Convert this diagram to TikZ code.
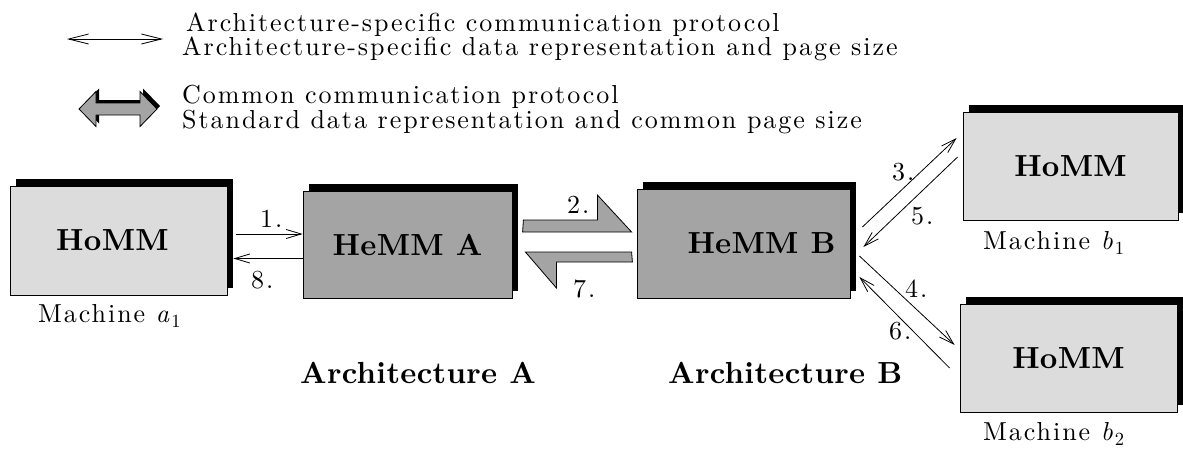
\documentclass[tikz,border=0pt]{standalone}
\usepackage{fontspec}
\usetikzlibrary{arrows.meta,calc,shadows}
\newfontfamily\rmwide{lmroman10-regular.otf}[LetterSpace=7.5, ItalicFont=lmroman10-italic.otf]
\newfontfamily\bfwide{lmroman10-bold.otf}[LetterSpace=1]
\definecolor{hostgray}{HTML}{DCDCDC}
\definecolor{hetgray}{HTML}{A4A4A4}
% machine index: italic letter with a lowered numeral
\newcommand{\machidx}[2]{\textit{#1}\raisebox{-0.22em}{\fontsize{18.5}{20}\selectfont #2}}
\newcommand{\widerm}{\rmwide\fontsize{26}{30}\selectfont}
\newcommand{\widebf}{\bfwide\fontsize{30.5}{34}\selectfont}
\tikzset{
  txt/.style={font=\widerm, inner sep=0pt, anchor=base west},
  btxt/.style={font=\widebf, inner sep=0pt, anchor=base west},
  mbox/.style={draw, line width=0.8pt, inner sep=0pt, font=\widebf,
    drop shadow={shadow xshift=6pt, shadow yshift=7pt, fill=black, opacity=1}},
  homm/.style={mbox, fill=hostgray},
  hemm/.style={mbox, fill=hetgray},
  msg/.style={line width=0.8pt, -{Straight Barb[length=15pt,width=9pt,line width=0.8pt]}},
  legarrow/.style={line width=0.8pt, {Straight Barb[length=20pt,width=10pt,line width=0.8pt]}-{Straight Barb[length=20pt,width=10pt,line width=0.8pt]}},
  halfarrow/.style={draw, line width=0.8pt, fill=hetgray},
}
\begin{document}
\begin{tikzpicture}[x=1pt,y=-1pt]
\useasboundingbox (0,0) rectangle (1183,455);

% legend
\coordinate (legL) at (67,39);
\coordinate (legR) at (163,39);
\draw[legarrow] (legL) -- (legR);
\node[txt] (l1) at (186,31) {Architecture-specific communication protocol};
\node[txt] (l2) at (182,55) {Architecture-specific data representation and page size};

\coordinate (fat) at (79,109);
\fill[black] ($(fat)+(3,-3)$) -- ++(17,-17.5) -- ++(0,11.5) -- ++(44,0) -- ++(0,-11.5) -- ++(17,17.5)
  -- ++(-17,17.5) -- ++(0,-11.5) -- ++(-44,0) -- ++(0,11.5) -- cycle;
\draw[halfarrow] (fat) -- ++(17,-17.5) -- ++(0,11.5) -- ++(44,0) -- ++(0,-11.5) -- ++(17,17.5)
  -- ++(-17,17.5) -- ++(0,-11.5) -- ++(-44,0) -- ++(0,11.5) -- cycle;
\node[txt] (l3) at (182,103) {Common communication protocol};
\node[txt] (l4) at (182,128) {Standard data representation and common page size};

% machines
\node[homm, minimum width=217pt, minimum height=109pt] (ha) at (118.5,240.5) {\hspace*{-12pt}HoMM};
\node[hemm, minimum width=209pt, minimum height=107pt] (hea) at (407.5,244.5) {HeMM\ A};
\node[hemm, minimum width=213pt, minimum height=109pt] (heb) at (743.5,243.5) {\hspace*{36pt}HeMM B};
\node[homm, minimum width=215pt, minimum height=108pt] (hb1) at (1070.5,166) {HoMM};
\node[homm, minimum width=217pt, minimum height=108pt] (hb2) at (1068.5,358) {HoMM};

\node[txt] (ma1) at (38,322) {Machine \machidx{a}{1}};
\node[txt] (mb1) at (983,249) {Machine \machidx{b}{1}};
\node[txt] (mb2) at (983,440) {Machine \machidx{b}{2}};
\node[btxt] (archA) at (300,383) {Architecture A};
\node[btxt] (archB) at (668,383) {Architecture B};

% architecture-specific messages
\draw[msg] ($(ha.east)+(9,-6.5)$) -- ($(hea.west)+(0,-10.5)$);
\draw[msg] ($(hea.west)+(0,14)$) -- ($(ha.east)+(6,18)$);
\node[txt] (n1) at (260,227) {1.};
\node[txt] (n8) at (251,288) {8.};

% common-protocol messages
\draw[halfarrow] ($(hea.east)+(11,-24.5)$) -- ++(74,0) -- ++(0,-25)
  -- ($(heb.west)+(-5,-11.5)$) -- ++(-109,0) -- cycle;
\draw[halfarrow] ($(heb.west)+(-5,8.5)$) -- ($(hea.east)+(13,7.5)$) -- ++(31,36)
  -- ++(0,-26) -- ++(76,0) -- cycle;
\node[txt] (n2) at (567,213) {2.};
\node[txt] (n7) at (573,297) {7.};

\draw[msg] ($(heb.east)+(12,-16.5)$) -- ($(hb1.west)+(-6,-28)$);
\draw[msg] ($(hb1.west)+(-5,-9)$) -- ($(heb.east)+(13,3.5)$);
\draw[msg] ($(heb.east)+(9,12.5)$) -- ($(hb2.west)+(-5,-13)$);
\draw[msg] ($(hb2.west)+(-10,10)$) -- ($(heb.east)+(9,33.5)$);
\node[txt] (n3) at (892,180) {3.};
\node[txt] (n5) at (911,224) {5.};
\node[txt] (n4) at (905,297) {4.};
\node[txt] (n6) at (889,339) {6.};
\end{tikzpicture}
\end{document}
